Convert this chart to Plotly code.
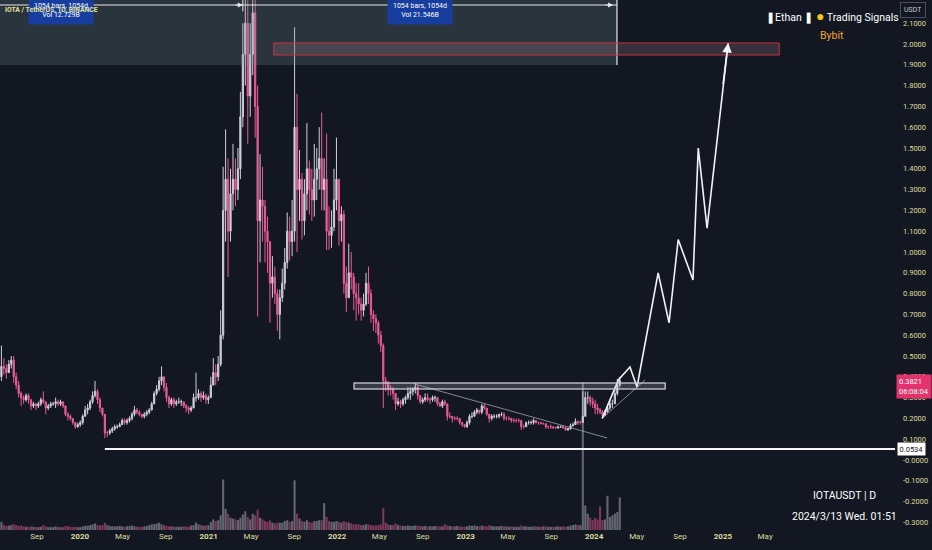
import pandas as pd
import plotly.graph_objects as go

# ---------------- weekly IOTA/USDT data ----------------
close_2019 = [0.45, 0.44, 0.42, 0.46, 0.48, 0.40, 0.36, 0.32, 0.30, 0.29, 0.31,
              0.29, 0.26, 0.27, 0.26, 0.27, 0.29, 0.28, 0.25, 0.26, 0.27, 0.27,
              0.28, 0.27, 0.28, 0.26, 0.22, 0.21, 0.20, 0.18, 0.16, 0.17, 0.18]
high_2019 = [0.55, 0.49, 0.46, 0.48, 0.50, 0.50, 0.42, 0.38, 0.33, 0.31, 0.32,
             0.32, 0.29, 0.28, 0.27, 0.28, 0.30, 0.33, 0.28, 0.27, 0.28, 0.28,
             0.30, 0.29, 0.29, 0.28, 0.26, 0.23, 0.22, 0.20, 0.18, 0.18, 0.19]
low_2019 = [0.38, 0.41, 0.39, 0.42, 0.44, 0.37, 0.34, 0.30, 0.26, 0.27, 0.28,
            0.27, 0.24, 0.25, 0.24, 0.25, 0.26, 0.27, 0.22, 0.24, 0.25, 0.26,
            0.25, 0.26, 0.26, 0.25, 0.21, 0.19, 0.19, 0.17, 0.15, 0.155, 0.16]

close_2020 = [0.21, 0.24, 0.25, 0.28, 0.31, 0.33, 0.29, 0.25, 0.22, 0.13, 0.13, 0.14, 0.15,
              0.16, 0.16, 0.17, 0.19, 0.18, 0.19, 0.20, 0.22, 0.24, 0.23, 0.22, 0.21, 0.22,
              0.23, 0.24, 0.27, 0.32, 0.34, 0.38, 0.40, 0.35, 0.30, 0.27, 0.29, 0.27, 0.28,
              0.28, 0.28, 0.26, 0.25, 0.24, 0.25, 0.30, 0.30, 0.32, 0.30, 0.31, 0.29, 0.30]
high_2020 = [0.22, 0.26, 0.27, 0.29, 0.33, 0.38, 0.34, 0.30, 0.25, 0.22, 0.14, 0.15, 0.16,
             0.17, 0.17, 0.18, 0.20, 0.20, 0.20, 0.21, 0.23, 0.26, 0.25, 0.24, 0.22, 0.23,
             0.24, 0.25, 0.28, 0.33, 0.36, 0.40, 0.45, 0.40, 0.37, 0.31, 0.30, 0.30, 0.29,
             0.30, 0.29, 0.28, 0.27, 0.26, 0.26, 0.32, 0.42, 0.34, 0.33, 0.33, 0.32, 0.31]
low_2020 = [0.17, 0.21, 0.22, 0.24, 0.27, 0.30, 0.27, 0.23, 0.21, 0.105, 0.11, 0.12, 0.13,
            0.14, 0.15, 0.16, 0.17, 0.17, 0.17, 0.18, 0.19, 0.21, 0.22, 0.21, 0.20, 0.20,
            0.21, 0.22, 0.24, 0.27, 0.31, 0.33, 0.36, 0.33, 0.28, 0.25, 0.26, 0.25, 0.26,
            0.27, 0.26, 0.25, 0.23, 0.22, 0.23, 0.25, 0.28, 0.29, 0.28, 0.29, 0.27, 0.27]

close_2021 = [0.36, 0.42, 0.40, 0.46, 0.60, 1.20, 1.35, 1.10, 1.28, 1.35, 1.30, 1.40, 1.65,
              1.95, 2.10, 1.75, 1.95, 2.15, 1.70, 1.15, 1.25, 1.22, 1.10, 1.05, 0.85, 0.88,
              0.80, 0.70, 0.78, 0.85, 0.95, 1.10, 1.05, 1.10, 1.60, 1.30, 1.35, 1.15, 1.28,
              1.40, 1.30, 1.25, 1.35, 1.40, 1.45, 1.30, 1.35, 1.10, 1.08, 1.12, 1.25, 1.35]
high_2021 = [0.40, 0.49, 0.46, 0.50, 0.72, 1.41, 1.59, 1.45, 1.40, 1.52, 1.45, 1.50, 1.77,
             2.10, 2.66, 2.40, 2.10, 2.50, 2.35, 1.80, 1.47, 1.41, 1.25, 1.17, 1.05, 0.98,
             0.93, 0.82, 0.82, 0.92, 1.02, 1.19, 1.17, 1.25, 2.08, 1.76, 1.49, 1.38, 1.35,
             1.62, 1.44, 1.40, 1.52, 1.50, 1.60, 1.67, 1.45, 1.57, 1.22, 1.20, 1.40, 1.55]
low_2021 = [0.30, 0.36, 0.36, 0.38, 0.45, 0.58, 1.05, 0.88, 1.05, 1.20, 1.22, 1.25, 1.35,
            1.60, 1.80, 1.52, 1.65, 1.85, 1.55, 0.69, 0.95, 1.05, 0.95, 0.90, 0.66, 0.78,
            0.75, 0.62, 0.58, 0.76, 0.82, 0.92, 0.96, 0.98, 1.05, 1.00, 1.15, 1.06, 1.08,
            1.20, 1.18, 1.15, 1.17, 1.25, 1.30, 1.20, 1.20, 1.01, 1.01, 1.02, 1.10, 1.20]

close_2022 = [1.15, 1.18, 0.85, 0.78, 0.90, 0.88, 0.80, 0.78, 0.75, 0.72, 0.75, 0.85, 0.80,
              0.70, 0.68, 0.66, 0.60, 0.55, 0.38, 0.37, 0.34, 0.34, 0.32, 0.27, 0.28, 0.27,
              0.29, 0.30, 0.32, 0.33, 0.34, 0.35, 0.31, 0.28, 0.29, 0.30, 0.29, 0.29, 0.30,
              0.30, 0.27, 0.26, 0.28, 0.27, 0.21, 0.21, 0.20, 0.20, 0.20, 0.18, 0.17, 0.16]
high_2022 = [1.35, 1.22, 1.20, 0.93, 1.04, 1.00, 0.90, 0.85, 0.85, 0.78, 0.80, 0.90, 0.93,
             0.82, 0.72, 0.70, 0.67, 0.62, 0.56, 0.40, 0.38, 0.36, 0.35, 0.32, 0.30, 0.29,
             0.30, 0.31, 0.35, 0.35, 0.35, 0.37, 0.36, 0.31, 0.30, 0.32, 0.32, 0.30, 0.31,
             0.31, 0.30, 0.28, 0.29, 0.29, 0.27, 0.23, 0.21, 0.21, 0.21, 0.20, 0.18, 0.17]
low_2022 = [1.03, 1.05, 0.80, 0.71, 0.78, 0.82, 0.72, 0.67, 0.70, 0.67, 0.69, 0.74, 0.75,
            0.66, 0.62, 0.61, 0.56, 0.52, 0.25, 0.33, 0.31, 0.31, 0.29, 0.24, 0.26, 0.25,
            0.26, 0.27, 0.29, 0.29, 0.31, 0.32, 0.29, 0.27, 0.27, 0.28, 0.28, 0.27, 0.28,
            0.28, 0.26, 0.255, 0.25, 0.26, 0.19, 0.20, 0.18, 0.19, 0.19, 0.17, 0.16, 0.155]

close_2023 = [0.18, 0.21, 0.21, 0.23, 0.24, 0.23, 0.26, 0.25, 0.22, 0.20, 0.21, 0.21, 0.21,
              0.22, 0.22, 0.20, 0.20, 0.20, 0.19, 0.19, 0.19, 0.19, 0.16, 0.16, 0.18, 0.18,
              0.18, 0.19, 0.18, 0.18, 0.175, 0.175, 0.16, 0.16, 0.16, 0.155, 0.155, 0.16, 0.16,
              0.155, 0.145, 0.15, 0.165, 0.17, 0.185, 0.18, 0.18, 0.21, 0.30, 0.30, 0.28, 0.27]
high_2023 = [0.19, 0.22, 0.23, 0.24, 0.25, 0.24, 0.27, 0.27, 0.25, 0.22, 0.22, 0.22, 0.22,
             0.22, 0.23, 0.23, 0.21, 0.21, 0.20, 0.20, 0.20, 0.20, 0.19, 0.17, 0.185, 0.19,
             0.19, 0.20, 0.19, 0.185, 0.18, 0.18, 0.175, 0.165, 0.17, 0.16, 0.16, 0.165, 0.165,
             0.165, 0.155, 0.155, 0.175, 0.18, 0.20, 0.19, 0.19, 0.33, 0.33, 0.33, 0.31, 0.30]
low_2023 = [0.155, 0.17, 0.20, 0.21, 0.22, 0.22, 0.22, 0.24, 0.21, 0.18, 0.19, 0.20, 0.20,
            0.20, 0.21, 0.19, 0.19, 0.19, 0.18, 0.18, 0.18, 0.18, 0.145, 0.15, 0.16, 0.17,
            0.17, 0.17, 0.175, 0.17, 0.17, 0.17, 0.15, 0.15, 0.15, 0.15, 0.15, 0.15, 0.155,
            0.15, 0.14, 0.14, 0.145, 0.16, 0.17, 0.17, 0.17, 0.18, 0.24, 0.27, 0.26, 0.25]

close_2024 = [0.25, 0.24, 0.23, 0.215, 0.23, 0.25, 0.27, 0.27, 0.32, 0.36, 0.3821]
high_2024 = [0.29, 0.27, 0.25, 0.24, 0.24, 0.26, 0.29, 0.29, 0.34, 0.39, 0.40]
low_2024 = [0.22, 0.22, 0.22, 0.20, 0.21, 0.23, 0.24, 0.25, 0.27, 0.31, 0.35]

# weekly volume (relative units)
vol_2019 = [100, 60, 50, 55, 60, 70, 60, 50, 55, 45, 40, 40, 45, 40, 35, 35, 40, 60, 45, 35,
            35, 35, 45, 35, 35, 35, 50, 45, 40, 35, 40, 35, 35]
vol_2020 = [45, 50, 55, 60, 70, 80, 60, 55, 60, 90, 60, 50, 45, 45, 45, 50, 45, 40, 45, 50,
            55, 45, 40, 40, 40, 45, 50, 60, 70, 70, 80, 90, 70, 60, 50, 45, 45, 40, 40, 40,
            40, 45, 45, 40, 55, 60, 90, 70, 60, 55, 55, 60]
vol_2021 = [100, 130, 110, 120, 180, 620, 260, 200, 150, 140, 130, 120, 150, 190, 230, 160,
            130, 200, 180, 250, 150, 130, 110, 100, 120, 90, 80, 90, 90, 90, 110, 120, 100,
            110, 610, 200, 140, 110, 100, 120, 100, 90, 110, 110, 120, 120, 330, 160, 110,
            100, 100, 110]
vol_2022 = [100, 90, 110, 100, 90, 80, 70, 70, 70, 60, 60, 70, 70, 60, 55, 55, 60, 70, 270,
            90, 70, 60, 60, 80, 60, 55, 50, 50, 55, 50, 50, 55, 50, 50, 45, 50, 45, 45, 45,
            50, 45, 45, 45, 70, 55, 50, 45, 45, 50, 45, 40, 40]
vol_2023 = [45, 55, 50, 55, 50, 45, 55, 50, 45, 60, 50, 45, 45, 45, 50, 45, 45, 40, 45, 40,
            40, 40, 55, 45, 45, 40, 40, 45, 45, 40, 40, 45, 45, 40, 40, 40, 40, 45, 40, 45,
            40, 45, 55, 60, 70, 60, 60, 1810, 300, 200, 150, 120]
vol_2024 = [150, 130, 290, 120, 130, 420, 160, 180, 200, 220, 400]

close = close_2019 + close_2020 + close_2021 + close_2022 + close_2023 + close_2024
high = high_2019 + high_2020 + high_2021 + high_2022 + high_2023 + high_2024
low = low_2019 + low_2020 + low_2021 + low_2022 + low_2023 + low_2024
volume = vol_2019 + vol_2020 + vol_2021 + vol_2022 + vol_2023 + vol_2024
first_open = 0.40
opens = [first_open] + close[:-1]
weeks = pd.date_range("2019-05-20", periods=len(close), freq="W-MON") + pd.Timedelta(days=3)

# projection path drawn on the chart
proj_dates = ["2024-01-24", "2024-03-10", "2024-04-12", "2024-05-02", "2024-07-01",
              "2024-08-01", "2024-08-27", "2024-10-08", "2024-10-23", "2024-11-17", "2025-01-16"]
proj_prices = [0.20, 0.385, 0.447, 0.351, 0.90, 0.66, 1.06, 0.865, 1.50, 1.115, 2.005]

# drawn levels / zones
target_zone = [1.947, 2.005]
target_zone_dates = ["2021-07-05", "2025-06-10"]
support_zone = [0.341, 0.370]
support_zone_dates = ["2022-02-18", "2024-07-21"]
low_level = 0.0534
low_level_start = "2020-03-12"
down_trend_dates = ["2022-08-10", "2024-02-07"]
down_trend_prices = [0.365, 0.106]
up_trend_dates = ["2024-01-24", "2024-05-25"]
up_trend_prices = [0.20, 0.385]
range_start = "2019-05-19"
range_mid = "2021-04-08"
range_end = "2024-03-06"
range_bottom = 1.899
range_line = 2.1875
last_price_label = "0.3821"
countdown_label = "06:08:04"

# axis ticks
y_ticks = [2.1, 2.0, 1.9, 1.8, 1.7, 1.6, 1.5, 1.4, 1.3, 1.2, 1.1, 1.0, 0.9, 0.8, 0.7, 0.6,
           0.5, 0.4, 0.3, 0.2, 0.1, 0.0, -0.1, -0.2, -0.3]
y_tick_text = ["2.1000", "2.0000", "1.9000", "1.8000", "1.7000", "1.6000", "1.5000", "1.4000",
               "1.3000", "1.2000", "1.1000", "1.0000", "0.9000", "0.8000", "0.7000", "0.6000",
               "0.5000", "0.4000", "0.3000", "0.2000", "0.1000", "-0.0000", "-0.1000",
               "-0.2000", "-0.3000"]
x_ticks = ["2019-09-01", "2020-01-01", "2020-05-01", "2020-09-01", "2021-01-01", "2021-05-01",
           "2021-09-01", "2022-01-01", "2022-05-01", "2022-09-01", "2023-01-01", "2023-05-01",
           "2023-09-01", "2024-01-01", "2024-05-01", "2024-09-01", "2025-01-01", "2025-05-01"]
x_tick_text = ["Sep", "<b>2020</b>", "May", "Sep", "<b>2021</b>", "May", "Sep", "<b>2022</b>",
               "May", "Sep", "<b>2023</b>", "May", "Sep", "<b>2024</b>", "May", "Sep",
               "<b>2025</b>", "May"]

# ---------------- figure ----------------
BG = "#131722"
PINK = "#ea5b96"
WHITE_C = "#cfcfda"
TICK_C = "#dcdc9c"
W, H = 932, 550
ML, MR, MT, MB = 0, 37, 0, 20
PW, PH = W - ML - MR, H - MT - MB

def px(xp):
    return xp / PW

def py(yp):
    return 1 - yp / PH

fig = go.Figure()

vol_colors = ["rgba(200,200,212,0.45)" if c >= o else "rgba(232,88,143,0.5)"
              for o, c in zip(opens, close)]
fig.add_trace(go.Bar(x=weeks, y=volume, marker_color=vol_colors, marker_line_width=0,
                     yaxis="y2", hoverinfo="skip", showlegend=False))

fig.add_trace(go.Candlestick(
    x=weeks, open=opens, high=high, low=low, close=close,
    increasing=dict(line=dict(color=WHITE_C, width=1), fillcolor=WHITE_C),
    decreasing=dict(line=dict(color=PINK, width=1), fillcolor=PINK),
    whiskerwidth=0, showlegend=False))

# trend lines
fig.add_trace(go.Scatter(x=down_trend_dates, y=down_trend_prices, mode="lines",
                         line=dict(color="rgba(170,172,185,0.75)", width=1), showlegend=False))
fig.add_trace(go.Scatter(x=up_trend_dates, y=up_trend_prices, mode="lines",
                         line=dict(color="rgba(170,172,185,0.75)", width=1), showlegend=False))
# projection path
fig.add_trace(go.Scatter(x=proj_dates, y=proj_prices, mode="lines",
                         line=dict(color="#f2f2f5", width=1.6), showlegend=False))

shapes = []
# date range shaded box
shapes.append(dict(type="rect", xref="x", yref="y", x0=range_start, x1=range_end,
                   y0=range_bottom, y1=2.3, fillcolor="rgba(120,150,145,0.23)",
                   line=dict(width=0), layer="above"))
shapes.append(dict(type="line", xref="x", yref="y", x0=range_start, x1=range_end,
                   y0=range_line, y1=range_line, line=dict(color="#e8e8ee", width=1.2), layer="above"))
shapes.append(dict(type="line", xref="x", yref="y", x0=range_end, x1=range_end,
                   y0=range_bottom, y1=2.3, line=dict(color="#e8e8ee", width=1.2), layer="above"))
shapes.append(dict(type="line", xref="x", yref="y", x0=range_mid, x1=range_mid,
                   y0=range_line - 0.03, y1=2.3, line=dict(color="#e8e8ee", width=1), layer="above"))
# target zone (red)
shapes.append(dict(type="rect", xref="x", yref="y", x0=target_zone_dates[0], x1=target_zone_dates[1],
                   y0=target_zone[0], y1=target_zone[1], fillcolor="rgba(150,110,130,0.28)",
                   line=dict(color="#c8323f", width=1), layer="above"))
# support zone (gray)
shapes.append(dict(type="rect", xref="x", yref="y", x0=support_zone_dates[0], x1=support_zone_dates[1],
                   y0=support_zone[0], y1=support_zone[1], fillcolor="rgba(190,192,200,0.22)",
                   line=dict(color="rgba(205,207,215,0.85)", width=1.5), layer="above"))
# 0.0534 horizontal line
shapes.append(dict(type="line", xref="x", yref="y", x0=low_level_start, x1="2026-05-05",
                   y0=low_level, y1=low_level, line=dict(color="#f5f5f7", width=2), layer="above"))
fig.update_layout(shapes=shapes)

ann = []
FONT = "Roboto"
# arrowheads on the range line
for d in [range_mid, "2024-02-24"]:
    ann.append(dict(x=d, y=range_line, xref="x", yref="y", ax=-9, ay=0, showarrow=True,
                    arrowhead=2, arrowsize=1, arrowwidth=1, arrowcolor="#e8e8ee", text=""))
# projection arrow head
ann.append(dict(x=proj_dates[-1], y=proj_prices[-1], xref="x", yref="y",
                ax="2025-01-01", ay=1.80, axref="x", ayref="y", showarrow=True,
                arrowhead=2, arrowsize=1.2, arrowwidth=1.6, arrowcolor="#f2f2f5", text=""))
# range label boxes
for cx, txt in [(61, "1054 bars, 1054d<br>Vol 12.729B"), (420, "1054 bars, 1054d<br>Vol 21.546B")]:
    ann.append(dict(x=px(cx), y=py(-4), xref="paper", yref="paper", xanchor="center",
                    yanchor="top", text=txt, showarrow=False, bgcolor="#173e9e",
                    borderpad=5, align="center",
                    font=dict(family=FONT, size=7, color="#ffffff")))
# title
ann.append(dict(x=px(3), y=py(10), xref="paper", yref="paper", xanchor="left",
                yanchor="middle", text="<b>IOTA / TetherUS, 1D, BINANCE</b>", showarrow=False,
                font=dict(family=FONT, size=6.8, color="#e4e49a")))
# branding
ann.append(dict(x=px(832), y=py(16), xref="paper", yref="paper", xanchor="center",
                yanchor="middle", showarrow=False,
                text="❚Ethan ❚ <span style='color:#f5c518;font-size:14px'>●</span> Trading Signals",
                font=dict(family=FONT, size=10.5, color="#ffffff")))
ann.append(dict(x=px(832), y=py(36), xref="paper", yref="paper", xanchor="center",
                yanchor="middle", showarrow=False, text="Bybit",
                font=dict(family=FONT, size=10.5, color="#f0a43a")))
ann.append(dict(x=px(844), y=py(495), xref="paper", yref="paper", xanchor="center",
                yanchor="middle", showarrow=False, text="IOTAUSDT | D",
                font=dict(family=FONT, size=10.5, color="#ffffff")))
ann.append(dict(x=px(844), y=py(516), xref="paper", yref="paper", xanchor="center",
                yanchor="middle", showarrow=False, text="2024/3/13 Wed. 01:51",
                font=dict(family=FONT, size=10.5, color="#ffffff")))
# axis badges
ann.append(dict(x=px(913), y=py(10), xref="paper", yref="paper", xanchor="center",
                yanchor="middle", showarrow=False, text="USDT", bgcolor=BG,
                bordercolor="#4a4f5c", borderwidth=1, borderpad=3,
                font=dict(family=FONT, size=7, color="#c8c8d0")))
ann.append(dict(x=px(896), y=py(386), xref="paper", yref="paper", xanchor="left",
                yanchor="middle", showarrow=False,
                text=f"{last_price_label}<br>{countdown_label}", bgcolor="#e3336c",
                borderpad=2, align="left",
                font=dict(family=FONT, size=7.5, color="#ffffff")))
ann.append(dict(x=px(897), y=py(449), xref="paper", yref="paper", xanchor="left",
                yanchor="middle", showarrow=False, text=f"{low_level:.4f}",
                bgcolor="#ffffff", borderpad=1.5,
                font=dict(family=FONT, size=7.5, color="#131722")))
fig.update_layout(annotations=ann)

fig.update_layout(
    width=W, height=H,
    margin=dict(l=ML, r=MR, t=MT, b=MB),
    paper_bgcolor=BG, plot_bgcolor=BG,
    showlegend=False, bargap=0.15,
    xaxis=dict(type="date", range=["2019-05-19", "2026-05-05"], showgrid=False,
               zeroline=False, rangeslider=dict(visible=False), tickvals=x_ticks,
               ticktext=x_tick_text, ticks="", showline=False,
               tickfont=dict(family=FONT, size=8, color=TICK_C)),
    yaxis=dict(side="right", range=[-0.3365, 2.2115], showgrid=False, zeroline=False,
               tickvals=y_ticks, ticktext=y_tick_text, ticks="", showline=False,
               ticklabelstandoff=7,
               tickfont=dict(family=FONT, size=7.5, color=TICK_C)),
    yaxis2=dict(overlaying="y", range=[0, 6500], visible=False, fixedrange=True),
)

fig.write_html("out.html", config={"displayModeBar": False},
               post_script="document.body.style.margin='0';document.body.style.background='#131722';")
